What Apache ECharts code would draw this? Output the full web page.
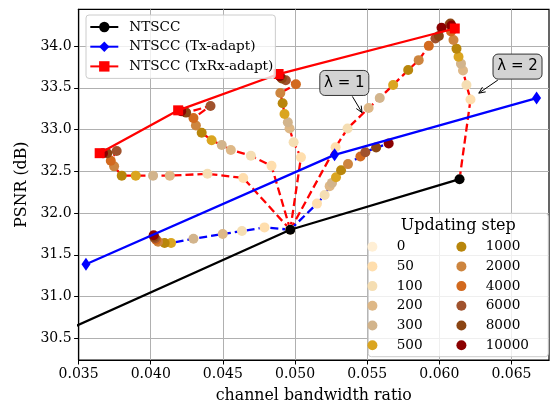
<!DOCTYPE html>
<html><head><meta charset="utf-8">
<script src="https://cdn.jsdelivr.net/npm/echarts@6/dist/echarts.min.js"></script>
<style>html,body{margin:0;padding:0;background:#fff}#c{width:552px;height:409px}</style>
</head><body><div id="c"></div>
<script>
// ---- data ----
const ticksX = [0.035, 0.040, 0.045, 0.050, 0.055, 0.060, 0.065];
const ticksY = [30.5, 31.0, 31.5, 32.0, 32.5, 33.0, 33.5, 34.0];

const ntsccX = [0.0330, 0.04967, 0.0614];
const ntsccY = [30.506, 31.80, 32.405];
const txX = [0.03551, 0.05274, 0.06674];
const txY = [31.386, 32.697, 33.377];
const txrxX = [0.03646, 0.04190, 0.04886, 0.06107];
const txrxY = [32.717, 33.23, 33.665, 34.21];

const steps = ['0','50','100','200','300','500','1000','2000','4000','6000','8000','10000'];

// TxRx-adapt trajectories (red dashed)
const r1X = [0.04967,0.04641,0.04393,0.04132,0.04016,0.03896,0.03799,0.03746,0.03723,0.03764,0.03699,0.03669];
const r1Y = [31.80,32.42,32.47,32.448,32.448,32.448,32.448,32.559,32.626,32.744,32.717,32.717];
const r2X = [0.04967,0.04837,0.04694,0.04555,0.04492,0.04422,0.04353,0.04313,0.04296,0.04414,0.04245,0.04211];
const r2Y = [31.80,32.565,32.687,32.756,32.815,32.871,32.962,33.049,33.137,33.282,33.203,33.22];
const r3X = [0.04967,0.05041,0.04990,0.04962,0.04950,0.04927,0.04914,0.04898,0.05006,0.04936,0.04908,0.04894];
const r3Y = [31.80,32.667,32.847,33.013,33.088,33.187,33.314,33.437,33.543,33.59,33.611,33.64];
const r4X = [0.04967,0.05281,0.05364,0.05510,0.05587,0.05680,0.05784,0.05857,0.05927,0.05973,0.05997,0.06015];
const r4Y = [31.80,32.788,33.013,33.258,33.377,33.534,33.712,33.831,34.002,34.091,34.121,34.218];
const r5X = [0.0614,0.06216,0.06188,0.06164,0.06150,0.06133,0.06119,0.06098,0.06081,0.06070,0.06077,0.06084];
const r5Y = [32.405,33.360,33.534,33.706,33.789,33.872,33.969,34.073,34.174,34.257,34.269,34.245];
// Tx-adapt trajectories (blue dashed)
const b1X = [0.04967,0.04788,0.04632,0.04499,0.04296,0.04141,0.04096,0.04051,0.04037,0.04030,0.04023,0.04020];
const b1Y = [31.80,31.828,31.784,31.749,31.692,31.642,31.642,31.656,31.680,31.698,31.716,31.733];
const b2X = [0.04967,0.05152,0.05205,0.05240,0.05256,0.05284,0.05319,0.05367,0.05453,0.05487,0.05562,0.05649];
const b2Y = [31.80,32.113,32.216,32.322,32.361,32.429,32.512,32.586,32.678,32.729,32.784,32.832];

// annotation anchors [x, y] in data units
const lam1Text = [0.053415, 33.558], lam1Target = [0.054643, 33.203];
const lam2Text = [0.065419, 33.754], lam2Target = [0.062734, 33.436];

// ---- styles ----
const stepColors = ['#FFEFD5','#FFDEAD','#F5DEB3','#DEB887','#D2B48C','#DAA520','#B8860B','#CD853F','#D2691E','#A0522D','#8B4513','#8B0000'];
const SERIF = 'DejaVu Serif';

const zip = (xs, ys) => xs.map((x, i) => [x, ys[i]]);
const redTraj = [[r1X,r1Y],[r2X,r2Y],[r3X,r3Y],[r4X,r4Y],[r5X,r5Y]];
const blueTraj = [[b1X,b1Y],[b2X,b2Y]];
const allTraj = redTraj.concat(blueTraj);

const series = [];
redTraj.forEach((t, k) => series.push({
  name: 'red' + k, type: 'line', data: zip(t[0], t[1]), showSymbol: false, symbol: 'none', z: 2,
  lineStyle: { color: '#ff0000', width: 2.3, type: [8, 4] }, silent: true, animation: false
}));
blueTraj.forEach((t, k) => series.push({
  name: 'blue' + k, type: 'line', data: zip(t[0], t[1]), showSymbol: false, symbol: 'none', z: 2,
  lineStyle: { color: '#0000ff', width: 2.3, type: [8, 4] }, silent: true, animation: false
}));
steps.forEach((s, i) => series.push({
  name: s, type: 'scatter', symbol: 'circle', symbolSize: 10, z: 3, animation: false,
  itemStyle: { color: stepColors[i], opacity: 1 },
  data: allTraj.map(t => [t[0][i], t[1][i]])
}));
series.push({
  name: 'NTSCC', type: 'line', data: zip(ntsccX, ntsccY), z: 4, animation: false,
  symbol: 'circle', symbolSize: 10, itemStyle: { color: '#000' }, lineStyle: { color: '#000', width: 2.3 }
});
series.push({
  name: 'NTSCC (Tx-adapt)', type: 'line', data: zip(txX, txY), z: 4, animation: false,
  symbol: 'diamond', symbolSize: [9, 13], itemStyle: { color: '#0000ff' }, lineStyle: { color: '#0000ff', width: 2.3 }
});
series.push({
  name: 'NTSCC (TxRx-adapt)', type: 'line', data: zip(txrxX, txrxY), z: 4, animation: false,
  symbol: 'rect', symbolSize: 10, itemStyle: { color: '#ff0000' }, lineStyle: { color: '#ff0000', width: 2.3 }
});

const chart = echarts.init(document.getElementById('c'), null, { renderer: 'canvas' });
const option = {
  animation: false,
  backgroundColor: '#fff',
  grid: { left: 78.6, right: 3, top: 9.3, bottom: 45, show: true, borderColor: '#000', borderWidth: 1.2, containLabel: false },
  xAxis: {
    type: 'value', min: 0.035, max: 0.0676, interval: 0.005,
    name: 'channel bandwidth ratio', nameLocation: 'middle', nameGap: 28,
    nameTextStyle: { fontFamily: SERIF, fontSize: 15.8, color: '#000' },
    axisLine: { show: true, onZero: false, lineStyle: { color: '#000', width: 1.2 } },
    axisTick: { show: true, length: 4.5, customValues: ticksX, lineStyle: { color: '#000', width: 1 } },
    axisLabel: { customValues: ticksX, formatter: v => Number(v).toFixed(3), fontFamily: SERIF, fontSize: 14, color: '#000', margin: 7 },
    splitLine: { show: true, lineStyle: { color: '#b0b0b0', width: 1 } }
  },
  yAxis: {
    type: 'value', min: 30.24, max: 34.44, interval: 0.5,
    name: 'PSNR (dB)', nameLocation: 'middle', nameGap: 48, nameRotate: 90,
    nameTextStyle: { fontFamily: SERIF, fontSize: 15.8, color: '#000' },
    axisLine: { show: true, onZero: false, lineStyle: { color: '#000', width: 1.2 } },
    axisTick: { show: true, length: 4.5, customValues: ticksY, lineStyle: { color: '#000', width: 1 } },
    axisLabel: { customValues: ticksY, formatter: v => Number(v).toFixed(1), fontFamily: SERIF, fontSize: 14, color: '#000', margin: 7 },
    splitLine: { show: true, lineStyle: { color: '#b0b0b0', width: 1 } }
  },
  legend: [
    {
      data: ['NTSCC', 'NTSCC (Tx-adapt)', 'NTSCC (TxRx-adapt)'],
      orient: 'vertical', left: 86, top: 15, padding: [5, 2, 5, 3.3],
      itemWidth: 28, itemHeight: 13, itemGap: 5.7, z: 6,
      backgroundColor: 'rgba(255,255,255,0.8)', borderColor: '#cccccc', borderWidth: 1, borderRadius: 3,
      textStyle: { fontFamily: SERIF, fontSize: 13.6, color: '#000', lineHeight: 14, padding: [0, 0, 0, 6] },
      selectedMode: false
    },
    {
      data: steps.slice(0, 6), orient: 'vertical', left: 367.4, top: 239.7, padding: 0,
      icon: 'circle', itemWidth: 38.6, itemHeight: 10, itemGap: 5.7, z: 6,
      textStyle: { fontFamily: SERIF, fontSize: 13.6, color: '#000', lineHeight: 14 }, selectedMode: false
    },
    {
      data: steps.slice(6), orient: 'vertical', left: 456.4, top: 239.7, padding: 0,
      icon: 'circle', itemWidth: 38.6, itemHeight: 10, itemGap: 5.7, z: 6,
      textStyle: { fontFamily: SERIF, fontSize: 13.6, color: '#000', lineHeight: 14 }, selectedMode: false
    }
  ],
  series: series
};
chart.setOption(option);

function annot(textPos, target, label) {
  const c = chart.convertToPixel({ gridIndex: 0 }, textPos);
  const t = chart.convertToPixel({ gridIndex: 0 }, target);
  const hw = 24.5, hh = 12.5;
  const dx = t[0] - c[0], dy = t[1] - c[1];
  const s = Math.min(hw / Math.abs(dx), hh / Math.abs(dy));
  const sx = c[0] + dx * s * 1.08, sy = c[1] + dy * s * 1.08;
  const ang = Math.atan2(t[1] - sy, t[0] - sx);
  const L = 7, W = 0.42;
  const h1 = [t[0] - L * Math.cos(ang - W), t[1] - L * Math.sin(ang - W)];
  const h2 = [t[0] - L * Math.cos(ang + W), t[1] - L * Math.sin(ang + W)];
  return [
    { type: 'rect', z: 7, shape: { x: c[0] - hw, y: c[1] - hh, width: hw * 2, height: hh * 2, r: 5 },
      style: { fill: '#d3d3d3', stroke: '#333', lineWidth: 1 } },
    { type: 'text', z: 8, x: c[0], y: c[1],
      style: { text: label, fontFamily: 'DejaVu Sans', fontSize: 15, fill: '#000', align: 'center', verticalAlign: 'middle' } },
    { type: 'polyline', z: 7, shape: { points: [[sx, sy], t] }, style: { stroke: '#000', lineWidth: 1, fill: null } },
    { type: 'polyline', z: 7, shape: { points: [h1, t, h2] }, style: { stroke: '#000', lineWidth: 1, fill: null } }
  ];
}

const graphics = [
  { type: 'rect', z: 5, shape: { x: 368.3, y: 213.3, width: 180, height: 143.4, r: 3 },
    style: { fill: 'rgba(255,255,255,0.8)', stroke: '#cccccc', lineWidth: 1 } },
  { type: 'text', z: 6, x: 458.3, y: 226,
    style: { text: 'Updating step', fontFamily: SERIF, fontSize: 16, fill: '#000', align: 'center', verticalAlign: 'middle' } }
].concat(annot(lam1Text, lam1Target, 'λ = 1'), annot(lam2Text, lam2Target, 'λ = 2'));

chart.setOption({ graphic: graphics });
</script>
</body></html>
